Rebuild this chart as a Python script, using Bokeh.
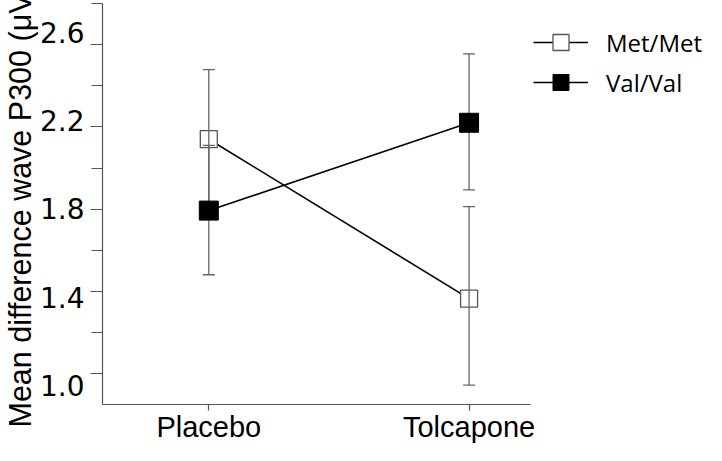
from bokeh.plotting import figure
from bokeh.models import (ColumnDataSource, Whisker, TeeHead, FixedTicker, Range1d,
                          LinearAxis, Legend, LegendItem, Title)
from bokeh.embed import file_html
from bokeh.resources import INLINE

conditions = ["Placebo", "Tolcapone"]
cond_pos = [1, 2]
met_mean = [2.14, 1.365]
met_upper = [2.478, 1.812]
met_lower = [1.81, 0.944]
val_mean = [1.793, 2.22]
val_upper = [2.11, 2.555]
val_lower = [1.481, 1.894]
y_major = [1.0, 1.4, 1.8, 2.2, 2.6]
y_minor = [0.8, 1.2, 1.6, 2.0, 2.4, 2.8]
y_labels = ["1.0", "1.4", "1.8", "2.2", "2.6"]

met_src = ColumnDataSource(dict(x=cond_pos, y=met_mean, up=met_upper, lo=met_lower))
val_src = ColumnDataSource(dict(x=cond_pos, y=val_mean, up=val_upper, lo=val_lower))

AX = "#555555"

p = figure(width=706, height=445, output_backend="svg", toolbar_location=None,
           x_range=Range1d(0.5916, 2.9122), y_range=Range1d(0.85, 2.8),
           min_border_left=98, min_border_right=0, min_border_top=3, min_border_bottom=40,
           background_fill_color="white", border_fill_color="white")
p.outline_line_color = None
p.grid.visible = False

# x axis
xa = p.xaxis[0]
xa.ticker = FixedTicker(ticks=cond_pos)
xa.bounds = (0.5916, 2.237)
xa.major_label_overrides = {c: n for c, n in zip(cond_pos, conditions)}
xa.major_label_text_font = "Liberation Sans"
xa.major_label_text_font_size = "29px"
xa.major_label_text_color = "black"
xa.major_tick_out = 6
xa.major_tick_in = 0
xa.minor_tick_line_color = None
xa.major_label_standoff = 0
xa.axis_line_color = AX
xa.major_tick_line_color = AX
xa.axis_line_width = 1.2
xa.major_tick_line_width = 1.2

# y axis (line + ticks)
ya = p.yaxis[0]
ya.ticker = FixedTicker(ticks=y_major, minor_ticks=y_minor)
ya.major_label_overrides = {t: "" for t in y_major}
ya.major_label_standoff = 0
ya.major_tick_out = 12
ya.major_tick_in = 0
ya.minor_tick_out = 11
ya.minor_tick_in = 0
ya.axis_line_color = AX
ya.major_tick_line_color = AX
ya.minor_tick_line_color = AX
ya.axis_line_width = 1.2
ya.major_tick_line_width = 1.2
ya.minor_tick_line_width = 1.2

# label axis (tick labels only)
p.extra_y_ranges = {"lab": Range1d(0.915, 2.7295)}
la = LinearAxis(y_range_name="lab", ticker=FixedTicker(ticks=y_major, minor_ticks=[]),
                major_label_overrides={t: s for t, s in zip(y_major, y_labels)})
la.axis_line_color = None
la.major_tick_line_color = None
la.minor_tick_line_color = None
la.major_tick_out = 0
la.major_tick_in = 0
la.minor_tick_out = 0
la.minor_tick_in = 0
la.major_label_standoff = 6
la.major_label_text_font = "DejaVu Sans"
la.major_label_text_font_size = "28px"
la.major_label_text_color = "black"
p.add_layout(la, "left")

p.add_layout(Title(text="Mean difference wave P300 (\u03bcV)", align="left",
                   text_font="Liberation Sans", text_font_size="30.5px",
                   text_font_style="normal", text_color="black", standoff=0,
                   offset=-23), "left")

# data
met_line = p.line("x", "y", source=met_src, line_color="black", line_width=1.6, level="underlay")
val_line = p.line("x", "y", source=val_src, line_color="black", line_width=1.6, level="underlay")
met_sc = p.scatter("x", "y", source=met_src, marker="square", size=17, fill_color="white",
                   line_color=AX, line_width=1.3, level="underlay")

for src in (met_src, val_src):
    w = Whisker(source=src, base="x", upper="up", lower="lo", line_color="#666666",
                line_width=1.3,
                upper_head=TeeHead(size=12, line_color="#666666", line_width=1.3),
                lower_head=TeeHead(size=12, line_color="#666666", line_width=1.3))
    p.add_layout(w)

val_sc = p.scatter("x", "y", source=val_src, marker="square", size=19, fill_color="black",
                   line_color="black", line_width=1, level="overlay")

legend = Legend(items=[LegendItem(label="Met/Met", renderers=[met_line, met_sc]),
                       LegendItem(label="Val/Val", renderers=[val_line, val_sc])],
                location=(431, 302), orientation="vertical",
                glyph_width=55, glyph_height=40, label_height=40, spacing=0,
                label_standoff=18, padding=0, margin=0,
                label_text_font="Open Sans", label_text_font_size="24px",
                label_text_color="black", border_line_color=None,
                background_fill_alpha=0)
p.add_layout(legend, "center")

open("out.html", "w").write(file_html(p, INLINE))
